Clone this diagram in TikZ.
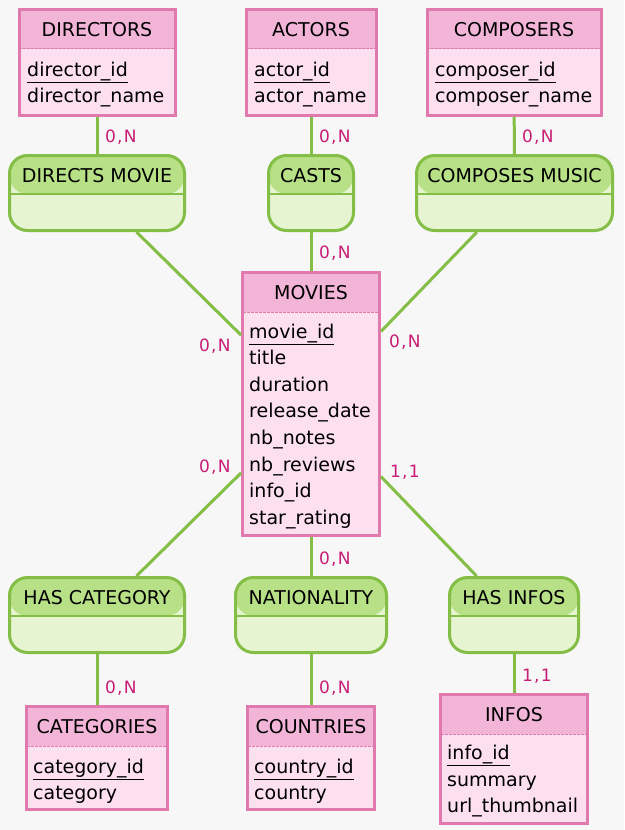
\documentclass[tikz,border=0pt]{standalone}
\usepackage{fontspec}
\setmainfont{DejaVu Sans}
\newfontfamily\lblfont[LetterSpace=7]{DejaVu Sans}
\definecolor{bgc}{RGB}{247,247,247}
\definecolor{entline}{RGB}{224,122,174}
\definecolor{enthead}{RGB}{242,181,216}
\definecolor{entbody}{RGB}{253,224,239}
\definecolor{relline}{RGB}{132,190,70}
\definecolor{relhead}{RGB}{184,225,135}
\definecolor{relbody}{RGB}{230,244,210}
\definecolor{lblc}{RGB}{200,28,118}
\tikzset{
  ent/.style={rectangle, draw=entline, fill=entbody, line width=3pt, inner sep=0pt,
    path picture={
      \fill[enthead] (path picture bounding box.north west) rectangle ([yshift=-39.5pt]path picture bounding box.north east);
      \draw[entline, line width=1pt, dash pattern=on 3pt off 1pt] ([yshift=-39.5pt]path picture bounding box.north west) -- ([yshift=-39.5pt]path picture bounding box.north east);
    }},
  relshape/.style={rectangle, rounded corners=18pt, draw=relline, fill=relbody, line width=3pt, inner sep=0pt,
    path picture={
      \fill[relhead] (path picture bounding box.north west) rectangle ([yshift=-38.5pt]path picture bounding box.north east);
      \draw[relline, line width=1.2pt] ([yshift=-38.5pt]path picture bounding box.north west) -- ([yshift=-38.5pt]path picture bounding box.north east);
    }},
  ttl/.style={anchor=base, inner sep=0pt, font=\fontsize{19}{22}\selectfont},
  att/.style={anchor=base west, inner sep=0pt, font=\fontsize{19}{22}\selectfont},
  lbl/.style={anchor=base west, inner sep=0pt, text=lblc, font=\lblfont\fontsize{17}{20}\selectfont},
  link/.style={draw=relline, line width=3pt}
}
\newcommand\mkbox[6]{% style, name, x1,y1,x2,y2
  \node[#1, minimum width={#5-#3}, minimum height={#6-#4}] (#2) at ({(#3+#5)/2},{(#4+#6)/2}) {};}
\begin{document}
\begin{tikzpicture}[x=1pt,y=-1pt]
\fill[bgc] (0,0) rectangle (624,830);
\useasboundingbox (0,0) rectangle (624,830);

% entities
\mkbox{ent}{dir}{19}{9}{175}{115}
\mkbox{ent}{act}{246}{9}{376}{115}
\mkbox{ent}{com}{427}{9}{601}{115}
\mkbox{ent}{mov}{242.5}{272.5}{379.5}{535.5}
\mkbox{ent}{cat}{26.5}{706.5}{167.5}{809.5}
\mkbox{ent}{cou}{247.5}{706.5}{374.5}{809.5}
\mkbox{ent}{inf}{440.5}{694.5}{587.5}{823.5}

% relations
\mkbox{relshape}{rdir}{9.5}{155.5}{184.5}{230.5}
\mkbox{relshape}{rcas}{268.5}{155.5}{353.5}{230.5}
\mkbox{relshape}{rcom}{416.5}{155.5}{612.5}{230.5}
\mkbox{relshape}{rcat}{9.5}{577.5}{184.5}{652.5}
\mkbox{relshape}{rnat}{235.5}{577.5}{386.5}{652.5}
\mkbox{relshape}{rinf}{449.5}{577.5}{578.5}{652.5}

% links
\draw[link] (dir) -- (rdir);
\draw[link] (act) -- (rcas);
\draw[link] (com) -- (rcom);
\draw[link] (rcas) -- (mov);
\draw[link] (rdir) -- (mov);
\draw[link] (rcom) -- (mov);
\draw[link] (rcat) -- (mov);
\draw[link] (rnat) -- (mov);
\draw[link] (rinf) -- (mov);
\draw[link] (rcat) -- (cat);
\draw[link] (rnat) -- (cou);
\draw[link] (rinf) -- (inf);

% entity texts
\node[ttl] (dirT) at (97,36) {DIRECTORS};
\node[att] (dirA) at (27,76) {\underline{director\_id}};
\node[att] (dirB) at (27,102) {director\_name};

\node[ttl] (actT) at (311,36) {ACTORS};
\node[att] (actA) at (254,76) {\underline{actor\_id}};
\node[att] (actB) at (254,102) {actor\_name};

\node[ttl] (comT) at (514,36) {COMPOSERS};
\node[att] (comA) at (435,76) {\underline{composer\_id}};
\node[att] (comB) at (435,102) {composer\_name};

\node[ttl] (movT) at (311,299) {MOVIES};
\node[att] (movA) at (249,338) {\underline{movie\_id}};
\node[att] (movB) at (249,364.6) {title};
\node[att] (movC) at (249,391.2) {duration};
\node[att] (movD) at (249,417.8) {release\_date};
\node[att] (movE) at (249,444.4) {nb\_notes};
\node[att] (movF) at (249,471) {nb\_reviews};
\node[att] (movG) at (249,497.6) {info\_id};
\node[att] (movH) at (249,524.2) {star\_rating};

\node[ttl] (catT) at (97,733) {CATEGORIES};
\node[att] (catA) at (33,773) {\underline{category\_id}};
\node[att] (catB) at (33,799) {category};

\node[ttl] (couT) at (311,733) {COUNTRIES};
\node[att] (couA) at (254,773) {\underline{country\_id}};
\node[att] (couB) at (254,799) {country};

\node[ttl] (infT) at (514,721) {INFOS};
\node[att] (infA) at (447,759) {\underline{info\_id}};
\node[att] (infB) at (447,786) {summary};
\node[att] (infC) at (447,812) {url\_thumbnail};

% relation texts
\node[ttl] (rdirT) at (97,182) {DIRECTS MOVIE};
\node[ttl] (rcasT) at (311,182) {CASTS};
\node[ttl] (rcomT) at (514.5,182) {COMPOSES MUSIC};
\node[ttl] (rcatT) at (97,604) {HAS CATEGORY};
\node[ttl] (rnatT) at (311,604) {NATIONALITY};
\node[ttl] (rinfT) at (514,604) {HAS INFOS};

% cardinalities
\node[lbl] (c1) at (105,142) {0,N};
\node[lbl] (c2) at (319,142) {0,N};
\node[lbl] (c3) at (522,142) {0,N};
\node[lbl] (c4) at (319,258) {0,N};
\node[lbl] (c5) at (199,351) {0,N};
\node[lbl] (c6) at (389,347) {0,N};
\node[lbl] (c7) at (199,472) {0,N};
\node[lbl] (c8) at (390,477) {1,1};
\node[lbl] (c9) at (319,564) {0,N};
\node[lbl] (c10) at (105,693) {0,N};
\node[lbl] (c11) at (319,693) {0,N};
\node[lbl] (c12) at (522,681) {1,1};
\end{tikzpicture}
\end{document}
